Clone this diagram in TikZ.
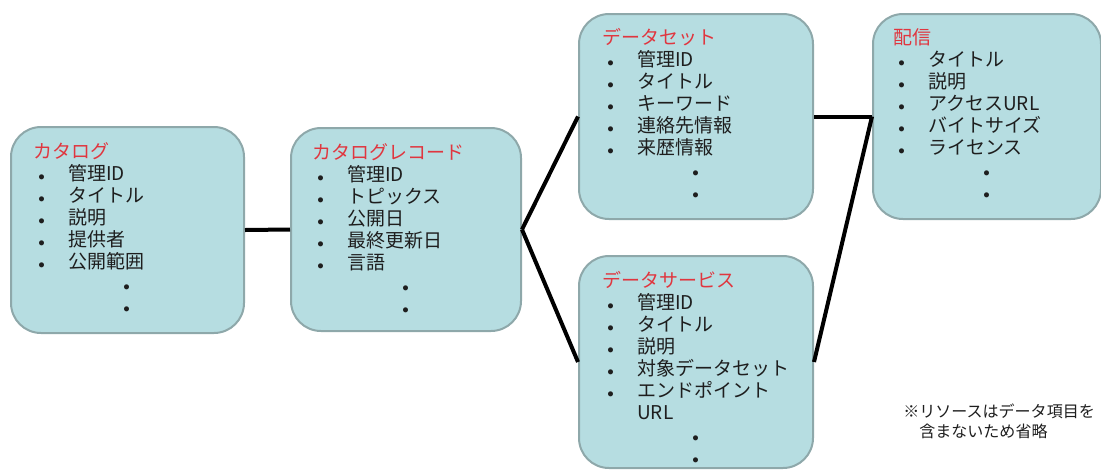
\documentclass[tikz,border=0pt]{standalone}
\usepackage{fontspec}
\setmainfont{Noto Sans CJK JP}

\definecolor{boxfill}{HTML}{B6DDE1}
\definecolor{boxline}{HTML}{8EA8AA}
\definecolor{titlered}{HTML}{E0363F}
\definecolor{fieldtext}{HTML}{1E1E1E}

\newlength{\px}\setlength{\px}{0.025cm}
\newcommand{\itm}{\hspace*{5\px}\makebox[30\px][l]{\small$\bullet$}}
\newcommand{\more}{\hspace*{90\px}{\small$\bullet$}}

\tikzset{
  entity/.style={draw=boxline, line width=2\px, fill=boxfill, rounded corners=30\px,
    anchor=north west, inner sep=0pt},
  fields/.style={anchor=north west, inner sep=0pt, align=left, text=fieldtext,
    font=\fontsize{13.5pt}{15.65pt}\selectfont},
  link/.style={line width=4\px, black},
  note/.style={anchor=north west, inner sep=0pt, align=left, text=fieldtext,
    font=\fontsize{11.4pt}{14.2pt}\selectfont}
}

\begin{document}
\begin{tikzpicture}[x=0.025cm, y=-0.025cm]
    % ページの大きさ
    \clip (0,0) rectangle (1101,469);

    % 箱
    \node[entity, minimum width=233\px, minimum height=206\px] (catalog) at (10,126) {};
    \node[entity, minimum width=230\px, minimum height=203\px] (record) at (290,127) {};
    \node[entity, minimum width=234\px, minimum height=205\px] (dataset) at (578,13) {};
    \node[entity, minimum width=228\px, minimum height=205\px] (distribution) at (872,13) {};
    \node[entity, minimum width=234\px, minimum height=212\px] (dataservice) at (578,255) {};

    % 項目
    \node[fields] (catalog-f) at ([xshift=23\px, yshift=-16\px]catalog.north west)
        {\textcolor{titlered}{カタログ}\\ \itm 管理ID\\ \itm タイトル\\ \itm 説明\\
         \itm 提供者\\ \itm 公開範囲\\ \more\\ \more};
    \node[fields] (record-f) at ([xshift=22\px, yshift=-16\px]record.north west)
        {\textcolor{titlered}{カタログレコード}\\ \itm 管理ID\\ \itm トピックス\\ \itm 公開日\\
         \itm 最終更新日\\ \itm 言語\\ \more\\ \more};
    \node[fields] (dataset-f) at ([xshift=24\px, yshift=-15\px]dataset.north west)
        {\textcolor{titlered}{データセット}\\ \itm 管理ID\\ \itm タイトル\\ \itm キーワード\\
         \itm 連絡先情報\\ \itm 来歴情報\\ \more\\ \more};
    \node[fields] (distribution-f) at ([xshift=21\px, yshift=-15\px]distribution.north west)
        {\textcolor{titlered}{配信}\\ \itm タイトル\\ \itm 説明\\ \itm アクセスURL\\
         \itm バイトサイズ\\ \itm ライセンス\\ \more\\ \more};
    \node[fields] (dataservice-f) at ([xshift=24\px, yshift=-16\px]dataservice.north west)
        {\textcolor{titlered}{データサービス}\\ \itm 管理ID\\ \itm タイトル\\ \itm 説明\\
         \itm 対象データセット\\ \itm エンドポイント\\ \hspace*{35\px}URL\\ \more\\ \more};

    % 線
    \draw[link] (catalog.east) -- (record.west);
    \draw[link] (record.east) -- (dataset.west);
    \draw[link] (record.east) -- (dataservice.west);
    \draw[link] (dataset.east) -- (distribution.west);
    \draw[link] (dataservice.east) -- (distribution.west);

    \node[note] (remark) at (903,404)
        {※リソースはデータ項目を\\ \hspace*{1em}含まないため省略};
\end{tikzpicture}
\end{document}
